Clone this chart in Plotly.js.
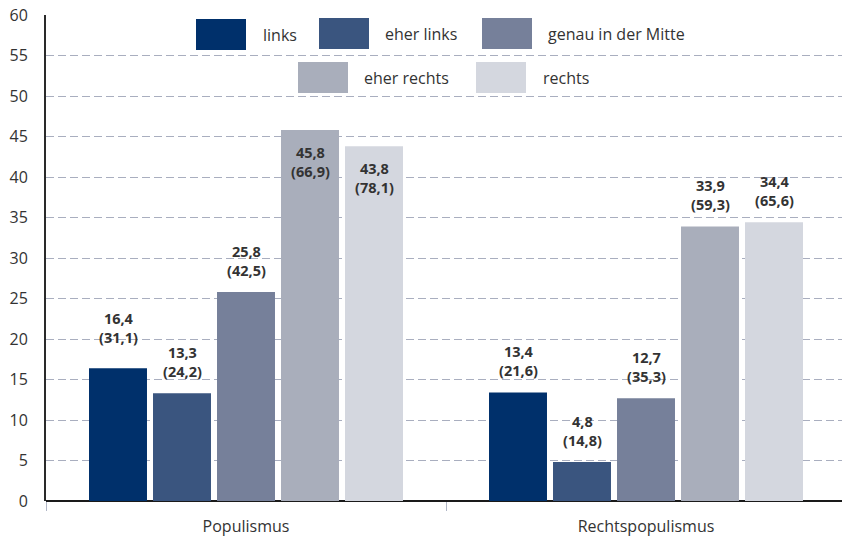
<!DOCTYPE html>
<html>
<head>
<meta charset="utf-8">
<script src="https://cdn.plot.ly/plotly-3.0.1.min.js"></script>
<style>html,body{margin:0;padding:0;background:#fff;}#chart{width:842px;height:538px;}</style>
</head>
<body>
<div id="chart"></div>
<script>
// ---- data ----
const categories = ["Populismus", "Rechtspopulismus"];
const seriesNames = ["links", "eher links", "genau in der Mitte", "eher rechts", "rechts"];
const links       = [16.4, 13.4];
const eherLinks   = [13.3, 4.8];
const mitte       = [25.8, 12.7];
const eherRechts  = [45.8, 33.9];
const rechts      = [43.8, 34.4];
const linksAlt      = ["31,1", "21,6"];
const eherLinksAlt  = ["24,2", "14,8"];
const mitteAlt      = ["42,5", "35,3"];
const eherRechtsAlt = ["66,9", "59,3"];
const rechtsAlt     = ["78,1", "65,6"];
const yTicks = [0, 5, 10, 15, 20, 25, 30, 35, 40, 45, 50, 55, 60];

// ---- styles ----
const colors = ["#00306b", "#3a557f", "#76809a", "#a9aebb", "#d4d7df"];
const values = [links, eherLinks, mitte, eherRechts, rechts];
const alts = [linksAlt, eherLinksAlt, mitteAlt, eherRechtsAlt, rechtsAlt];
const FONT = "Open Sans, Noto Sans, sans-serif";
const TXT = "#333333";

const fmt = v => v.toFixed(1).replace(".", ",");

const traces = values.map((vals, i) => ({
  type: "bar",
  name: seriesNames[i],
  x: categories,
  y: vals,
  marker: { color: colors[i], line: { width: 0 } },
  hoverinfo: "skip",
  showlegend: false
}));

// plot geometry
const L = 46, T = 15, B = 37, W = 842, H = 538;
const plotW = W - L, plotH = H - T - B;
const xRange = [-0.5, 1.49];
const bargap = 0.2, nSeries = 5;
const slot = (1 - bargap) / nSeries; // in category units

const annotations = [];
values.forEach((vals, i) => {
  vals.forEach((v, c) => {
    let shift = 31;
    if (v > 40) shift = -32;
    else if (i === 0 && v > 15) shift = 40;
    annotations.push({
      x: c + (i - (nSeries - 1) / 2) * slot,
      y: v,
      xref: "x", yref: "y",
      text: "<b>" + fmt(v) + "</b><br><b>(" + alts[i][c] + ")</b>",
      showarrow: false,
      yanchor: "middle",
      yshift: shift,
      font: { family: FONT, size: 14.5, color: TXT }
    });
  });
});

// custom legend (large swatches)
const px2x = p => (p - L) / plotW;
const py2y = p => (H - B - p) / plotH;
const legendItems = [
  { sx: 196, sy: 19, tx: 261 },
  { sx: 319, sy: 18, tx: 383 },
  { sx: 482, sy: 18, tx: 546 },
  { sx: 298, sy: 62, tx: 362 },
  { sx: 476, sy: 62, tx: 541 }
];
const shapes = [];
legendItems.forEach((it, i) => {
  shapes.push({
    type: "rect", xref: "paper", yref: "paper",
    x0: px2x(it.sx), x1: px2x(it.sx + 50),
    y0: py2y(it.sy + 31), y1: py2y(it.sy),
    fillcolor: colors[i], line: { width: 0 }, layer: "above"
  });
  annotations.push({
    xref: "paper", yref: "paper",
    x: px2x(it.tx), y: py2y(it.sy + 16),
    xanchor: "left", yanchor: "middle",
    text: seriesNames[i], showarrow: false,
    font: { family: FONT, size: 16, color: TXT }
  });
});

const layout = {
  width: W, height: H,
  margin: { l: L, r: 0, t: T, b: B, pad: 0 },
  paper_bgcolor: "#fff", plot_bgcolor: "#fff",
  barmode: "group",
  bargap: bargap,
  bargroupgap: 0.094,
  showlegend: false,
  font: { family: FONT, size: 16, color: TXT },
  xaxis: {
    type: "category",
    range: xRange,
    tickson: "boundaries",
    ticks: "outside",
    ticklen: 9,
    tickcolor: "#b0b6c6",
    tickwidth: 1,
    ticklabelstandoff: 14,
    showline: false,
    showgrid: false,
    zeroline: false,
    tickfont: { family: FONT, size: 16, color: TXT },
    fixedrange: true
  },
  yaxis: {
    range: [0, 60],
    tickvals: yTicks,
    ticktext: yTicks.map(String),
    showgrid: true,
    gridcolor: "#a9aebf",
    gridwidth: 1,
    griddash: "8px,4px",
    zeroline: true,
    zerolinecolor: "#1a1a1a",
    zerolinewidth: 2,
    showline: true,
    linecolor: "#2a2a2a",
    linewidth: 2,
    ticks: "",
    ticklabelstandoff: 13,
    tickfont: { family: FONT, size: 16, color: TXT },
    fixedrange: true
  },
  annotations: annotations,
  shapes: shapes
};

Plotly.newPlot("chart", traces, layout, { staticPlot: true });
</script>
</body>
</html>
